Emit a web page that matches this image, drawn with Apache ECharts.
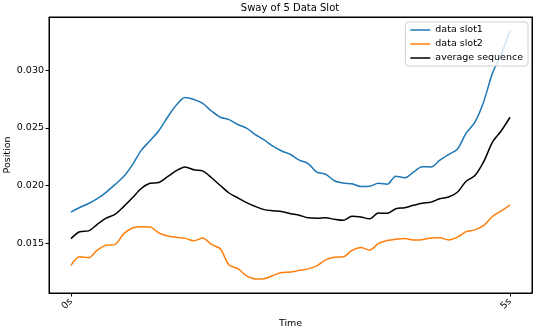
<!DOCTYPE html>
<html>
<head>
<meta charset="utf-8">
<script src="https://cdn.jsdelivr.net/npm/echarts@6/dist/echarts.min.js"></script>
<style>
  html, body { margin: 0; padding: 0; background: #fff; }
  #chart { width: 536px; height: 330px; }
</style>
</head>
<body>
<div id="chart"></div>
<script>
// time in seconds
const times = [0, 0.1, 0.2, 0.3, 0.4, 0.5, 0.6, 0.7, 0.8, 0.9,
  1.0, 1.1, 1.2, 1.3, 1.4, 1.5, 1.6, 1.7, 1.8, 1.9,
  2.0, 2.1, 2.2, 2.3, 2.4, 2.5, 2.6, 2.7, 2.8, 2.9,
  3.0, 3.1, 3.2, 3.3, 3.4, 3.5, 3.6, 3.7, 3.8, 3.9,
  4.0, 4.1, 4.2, 4.3, 4.4, 4.5, 4.6, 4.7, 4.8, 4.9, 5.0]

const slot1 = [0.01771, 0.01810, 0.01845, 0.01888, 0.01942, 0.02008, 0.02078, 0.02180, 0.02305, 0.02388,
  0.02475, 0.02592, 0.02697, 0.02762, 0.02746, 0.02711, 0.02646, 0.02592, 0.02571, 0.02529,
  0.02497, 0.02441, 0.02395, 0.02341, 0.02300, 0.02269, 0.02220, 0.02191, 0.02116, 0.02098,
  0.02042, 0.02022, 0.02016, 0.01992, 0.01994, 0.02020, 0.02012, 0.02081, 0.02068, 0.02116,
  0.02163, 0.02162, 0.02220, 0.02269, 0.02315, 0.02454, 0.02549, 0.02727, 0.02974, 0.03139, 0.03338]

const slot2 = [0.01309, 0.01383, 0.01376, 0.01441, 0.01483, 0.01489, 0.01582, 0.01633, 0.01644, 0.01642,
  0.01591, 0.01564, 0.01552, 0.01543, 0.01522, 0.01546, 0.01491, 0.01453, 0.01312, 0.01281,
  0.01218, 0.01192, 0.01194, 0.01222, 0.01247, 0.01252, 0.01266, 0.01279, 0.01305, 0.01357,
  0.01380, 0.01383, 0.01439, 0.01463, 0.01441, 0.01497, 0.01524, 0.01536, 0.01541, 0.01530,
  0.01532, 0.01546, 0.01548, 0.01530, 0.01554, 0.01601, 0.01617, 0.01656, 0.01734, 0.01781, 0.01834]

const average = [0.01541, 0.01601, 0.01608, 0.01665, 0.01718, 0.01751, 0.01818, 0.01894, 0.01975, 0.02020,
  0.02027, 0.02077, 0.02129, 0.02162, 0.02137, 0.02127, 0.02068, 0.02001, 0.01936, 0.01894,
  0.01853, 0.01819, 0.01792, 0.01782, 0.01775, 0.01757, 0.01743, 0.01721, 0.01717, 0.01722,
  0.01708, 0.01699, 0.01734, 0.01728, 0.01712, 0.01763, 0.01760, 0.01799, 0.01809, 0.01829,
  0.01847, 0.01857, 0.01886, 0.01901, 0.01942, 0.02038, 0.02087, 0.02207, 0.02376, 0.02475, 0.02592]

const xTicks = [0, 5]
const yTicks = [0.015, 0.020, 0.025, 0.030]

const font = 'DejaVu Sans'
const xMin = -0.25, xMax = 5.25
const yMin = 0.0107, yMax = 0.0346

function pairs(values) {
  return times.map((t, i) => [t, values[i]])
}

// plain frame axes for the top and right sides of the box
function frameAxis(position, min, max) {
  return {
    type: 'value',
    position: position,
    min: min,
    max: max,
    axisLine: { show: true, onZero: false, lineStyle: { color: '#000', width: 1 } },
    axisTick: { show: false },
    axisLabel: { show: false },
    splitLine: { show: false }
  }
}

const chart = echarts.init(document.getElementById('chart'), null, { renderer: 'canvas' })

chart.setOption({
  animation: false,
  backgroundColor: '#fff',
  textStyle: { fontFamily: font },
  title: {
    text: 'Sway of 5 Data Slot',
    left: 290,
    top: 3,
    padding: 0,
    textAlign: 'center',
    textStyle: { fontFamily: font, fontSize: 10, fontWeight: 'normal', color: '#000' }
  },
  legend: {
    orient: 'vertical',
    right: 8,
    top: 22,
    icon: 'rect',
    itemWidth: 20,
    itemHeight: 1.5,
    itemGap: 4,
    padding: [3, 5, 3, 5],
    backgroundColor: 'rgba(255,255,255,0.8)',
    borderColor: '#d0d0d0',
    borderWidth: 1,
    borderRadius: 3,
    textStyle: { fontFamily: font, fontSize: 9.5, color: '#000' },
    data: ['data slot1', 'data slot2', 'average sequence']
  },
  grid: {
    left: 49,
    right: 4,
    top: 17,
    bottom: 37,
    show: true,
    borderColor: '#000',
    borderWidth: 1,
    containLabel: false,
    outerBoundsMode: 'none'
  },
  xAxis: [
    {
      type: 'value',
      min: xMin,
      max: xMax,
      name: 'Time',
      nameLocation: 'middle',
      nameGap: 26,
      nameMoveOverlap: false,
      nameTextStyle: { fontFamily: font, fontSize: 9.5, color: '#000' },
      axisLine: { show: true, onZero: false, lineStyle: { color: '#000', width: 1 } },
      axisTick: { show: true, length: 3.5, customValues: xTicks, lineStyle: { color: '#000' } },
      axisLabel: {
        customValues: xTicks,
        rotate: 45,
        margin: 7,
        fontFamily: font,
        fontSize: 9.5,
        color: '#000',
        formatter: v => v + 's'
      },
      splitLine: { show: false }
    },
    frameAxis('top', xMin, xMax)
  ],
  yAxis: [
    {
      type: 'value',
      min: yMin,
      max: yMax,
      name: 'Position',
      nameLocation: 'middle',
      nameGap: 36,
      nameMoveOverlap: false,
      nameTextStyle: { fontFamily: font, fontSize: 9.5, color: '#000' },
      axisLine: { show: true, onZero: false, lineStyle: { color: '#000', width: 1 } },
      axisTick: { show: true, length: 3.5, customValues: yTicks, lineStyle: { color: '#000' } },
      axisLabel: {
        customValues: yTicks,
        margin: 5,
        fontFamily: font,
        fontSize: 9.5,
        color: '#000',
        formatter: v => v.toFixed(3)
      },
      splitLine: { show: false }
    },
    frameAxis('right', yMin, yMax)
  ],
  series: [
    {
      name: 'data slot1',
      type: 'line',
      data: pairs(slot1),
      symbol: 'none',
      smooth: 0.3,
      color: '#1f77b4',
      lineStyle: { width: 1.5 }
    },
    {
      name: 'data slot2',
      type: 'line',
      data: pairs(slot2),
      symbol: 'none',
      smooth: 0.3,
      color: '#ff7f0e',
      lineStyle: { width: 1.5 }
    },
    {
      name: 'average sequence',
      type: 'line',
      data: pairs(average),
      symbol: 'none',
      smooth: 0.3,
      color: '#000',
      lineStyle: { width: 1.5 }
    }
  ]
})
</script>
</body>
</html>
